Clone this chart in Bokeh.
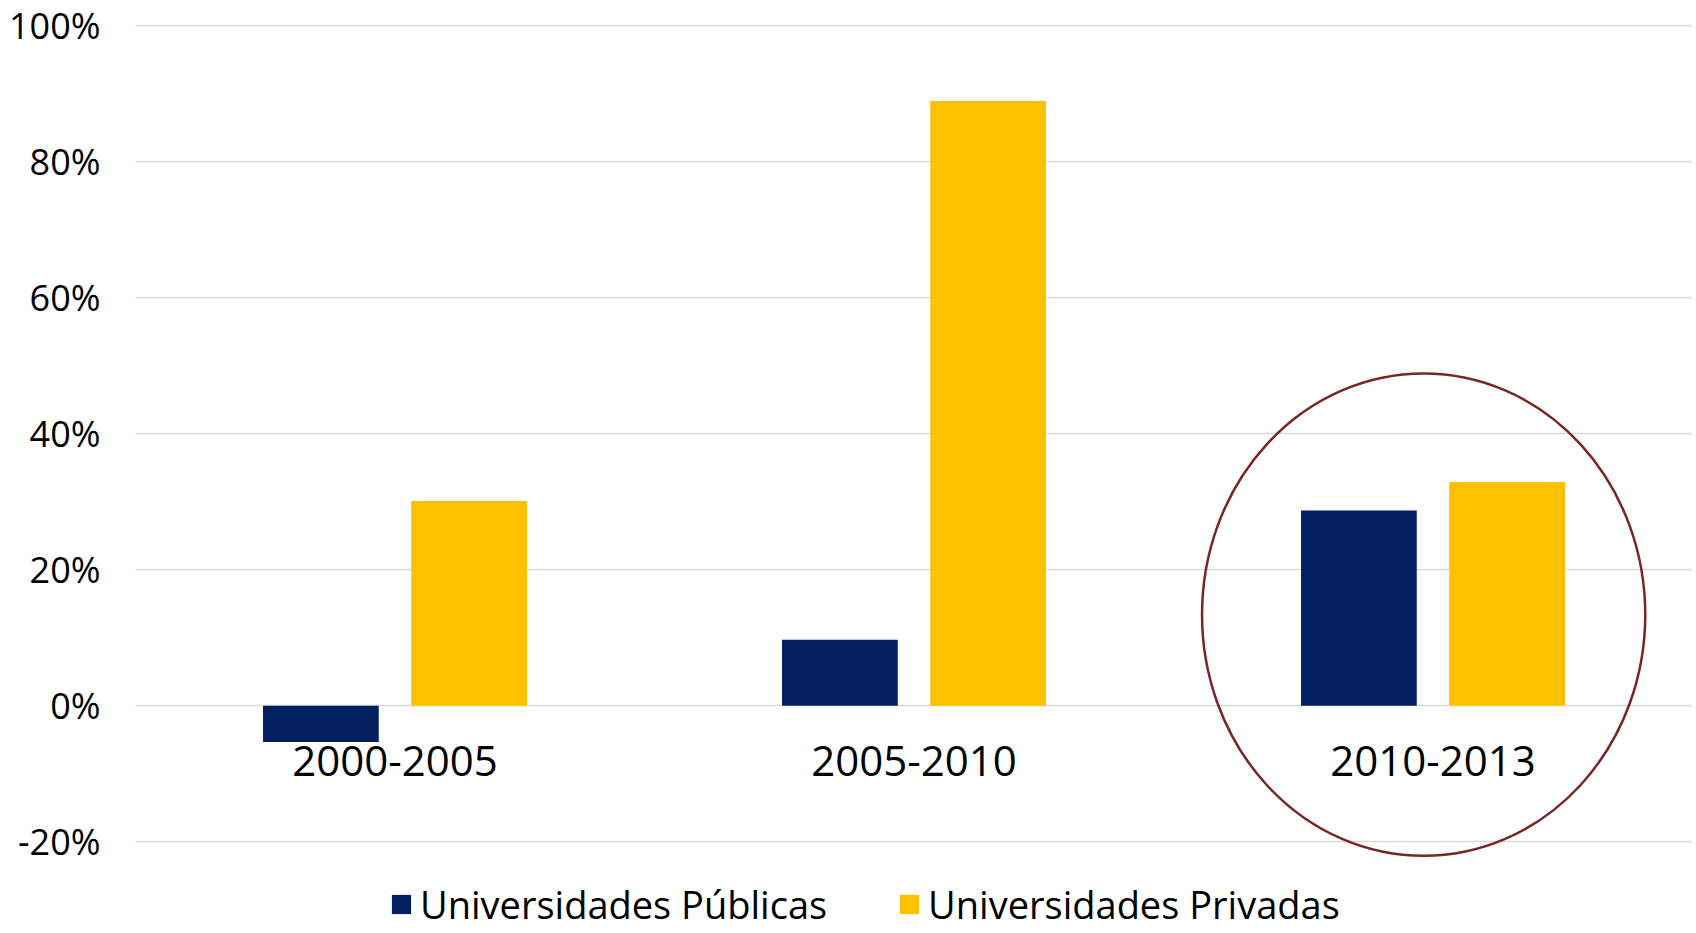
from bokeh.plotting import figure
from bokeh.models import (FactorRange, Range1d, FixedTicker, PrintfTickFormatter,
                          Legend, LegendItem, ColumnDataSource)
from bokeh.transform import dodge
from bokeh.embed import file_html
from bokeh.resources import INLINE

# ---- data ----
periods = ["2000-2005", "2005-2010", "2010-2013"]
publicas = [-5.3, 9.7, 28.7]
privadas = [30.1, 88.9, 32.9]
series_names = ["Universidades Públicas", "Universidades Privadas"]
y_ticks = [-20, 0, 20, 40, 60, 80, 100]

# highlight ring annotation (around the last period)
ring_period = ["2010-2013"]
ring_center = [13.4]
ring_width = [0.854]
ring_height = [70.9]

src = ColumnDataSource(dict(period=periods, pub=publicas, priv=privadas))
ring = ColumnDataSource(dict(period=ring_period, y=ring_center, w=ring_width, h=ring_height))

FONT = "Open Sans"
BLUE = "#02205F"
YELLOW = "#FFC000"

p = figure(width=1696, height=933, output_backend="svg", toolbar_location=None,
           x_range=FactorRange(*periods), y_range=Range1d(-33.46, 103.67),
           min_border_left=135, min_border_right=4, min_border_top=0, min_border_bottom=0)
p.outline_line_color = None
p.background_fill_color = "white"

r_pub = p.vbar(x=dodge("period", -0.1428, range=p.x_range), top="pub", bottom=0,
               width=0.223, source=src, fill_color=BLUE, line_color=None)
r_priv = p.vbar(x=dodge("period", 0.1428, range=p.x_range), top="priv", bottom=0,
                width=0.223, source=src, fill_color=YELLOW, line_color=None)

p.ellipse(x=dodge("period", -0.018, range=p.x_range), y="y", width="w", height="h",
          source=ring, fill_color=None, line_color="#7A2424", line_width=2.5)

# grid
p.xgrid.visible = False
p.ygrid.ticker = FixedTicker(ticks=y_ticks)
p.ygrid.grid_line_color = "#D9D9D9"
p.ygrid.grid_line_width = 1.5

# y axis
p.yaxis.ticker = FixedTicker(ticks=y_ticks)
p.yaxis.formatter = PrintfTickFormatter(format="%d%%")
p.yaxis.axis_line_color = None
p.yaxis.major_tick_line_color = None
p.yaxis.minor_tick_line_color = None
p.yaxis.major_label_text_font = FONT
p.yaxis.major_label_text_font_size = "36px"
p.yaxis.major_label_text_color = "#000000"
p.yaxis.major_label_standoff = 29

# x axis at zero
p.xaxis.fixed_location = 0
p.xaxis.axis_line_color = None
p.xaxis.major_tick_line_color = None
p.xaxis.minor_tick_line_color = None
p.xaxis.major_label_text_font = FONT
p.xaxis.major_label_text_font_size = "42px"
p.xaxis.major_label_text_color = "#000000"
p.xaxis.major_label_standoff = 34

legend = Legend(items=[LegendItem(label=series_names[0], renderers=[r_pub]),
                       LegendItem(label=series_names[1], renderers=[r_priv])],
                orientation="horizontal", location=(254, 3),
                glyph_width=24, glyph_height=24, label_standoff=7, spacing=70,
                padding=0, margin=0, border_line_color=None, background_fill_alpha=0,
                label_text_font=FONT, label_text_font_size="38px", label_text_color="#000000")
p.add_layout(legend, "center")

open("out.html", "w").write(file_html(p, INLINE))
